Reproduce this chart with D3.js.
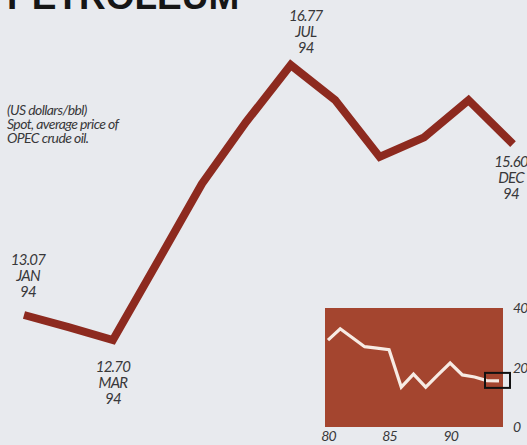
<!DOCTYPE html>
<html>
<head>
<meta charset="utf-8">
<script src="https://cdn.jsdelivr.net/npm/d3@7"></script>
<style>
  html, body { margin: 0; padding: 0; background: #e8eaee; }
  svg { display: block; }
  .lbl { font-family: Lato, "Open Sans", sans-serif; font-style: italic; fill: #38383a; }
</style>
</head>
<body>
<svg id="chart" width="527" height="445"></svg>
<script>
// Monthly spot price, OPEC crude, 1994 (US dollars/bbl)
const months = ["JAN","FEB","MAR","APR","MAY","JUN","JUL","AUG","SEP","OCT","NOV","DEC"];
const prices = [13.07, 12.89, 12.70, 13.85, 15.01, 15.93, 16.77, 16.25, 15.41, 15.70, 16.25, 15.60];

// Labelled months: index, text lines, offset of the first baseline from the point
const callouts = [
  { i: 0,  dx: 4,  dy: -50, lines: ["13.07", "JAN", "94"] },
  { i: 2,  dx: 0,  dy: 32,  lines: ["12.70", "MAR", "94"] },
  { i: 6,  dx: 15, dy: -44, lines: ["16.77", "JUL", "94"] },
  { i: 11, dx: -2, dy: 23,  lines: ["15.60", "DEC", "94"] }
];

// Annual averages for the inset, 1980-1994
const years = [1980,1981,1982,1983,1984,1985,1986,1987,1988,1989,1990,1991,1992,1993,1994];
const annual = [29.2, 33.0, 30.0, 27.0, 26.5, 26.0, 13.4, 17.8, 13.4, 17.5, 21.5, 17.5, 16.8, 15.6, 15.5];
const insetYTicks = [0, 20, 40];
const insetXTicks = [1980, 1985, 1990];

const svg = d3.select("#chart");

// Multi-line label as one text element with stacked tspans
function stacked(g, lines, xPos, yPos, lead, anchor) {
  const t = g.append("text")
    .attr("class", "lbl")
    .attr("text-anchor", anchor)
    .attr("x", xPos)
    .attr("y", yPos);
  t.selectAll("tspan").data(lines).join("tspan")
    .attr("x", xPos)
    .attr("dy", (d, k) => k === 0 ? 0 : lead)
    .text(d => d);
  return t;
}

// Title
svg.append("text")
  .attr("x", 7).attr("y", 9)
  .attr("font-family", "'Liberation Sans', Arial, sans-serif")
  .attr("font-weight", "bold")
  .attr("font-size", 37)
  .attr("fill", "#161616")
  .text("PETROLEUM");

// Description
const note = ["(US dollars/bbl)", "Spot, average price of", "OPEC crude oil."];
stacked(svg, note, 7, 115, 14, "start")
  .attr("font-size", 14)
  .attr("letter-spacing", -0.6);

// Main line scales
const x = d3.scalePoint().domain(months).range([24, 513]);
const y = d3.scaleLinear().domain([12.70, 16.77]).range([340, 65]);

const line = d3.line()
  .x((d, k) => x(months[k]))
  .y(d => y(d));

svg.append("path")
  .datum(prices)
  .attr("d", line)
  .attr("fill", "none")
  .attr("stroke", "#8d2a1f")
  .attr("stroke-width", 8)
  .attr("stroke-linejoin", "miter")
  .attr("stroke-linecap", "butt");

// Value callouts
callouts.forEach(c => {
  stacked(svg, c.lines, x(months[c.i]) + c.dx, y(prices[c.i]) + c.dy, 16, "middle")
    .attr("font-size", 15)
    .attr("letter-spacing", -0.8);
});

// Inset: annual averages
const inset = { left: 325, right: 503, top: 308, bottom: 427 };
const ix = d3.scaleLinear().domain([1980, 1994]).range([328, 499]);
const iy = d3.scaleLinear().domain([0, 40]).range([inset.bottom, inset.top]);

svg.append("rect")
  .attr("x", inset.left).attr("y", inset.top)
  .attr("width", inset.right - inset.left)
  .attr("height", inset.bottom - inset.top)
  .attr("fill", "#a4452f");

svg.append("path")
  .datum(annual)
  .attr("d", d3.line().x((d, k) => ix(years[k])).y(d => iy(d)))
  .attr("fill", "none")
  .attr("stroke", "#f7ebe4")
  .attr("stroke-width", 3.2)
  .attr("stroke-linejoin", "miter");

// Box marking 1994 on the inset
svg.append("rect")
  .attr("x", ix(1994) - 14).attr("y", iy(annual[14]) - 8)
  .attr("width", 25).attr("height", 15)
  .attr("fill", "none")
  .attr("stroke", "#111")
  .attr("stroke-width", 2);

// Inset axes
const yAxis = svg.append("g")
  .attr("transform", `translate(${inset.right + 10},0)`)
  .call(d3.axisRight(iy).tickValues(insetYTicks).tickSize(0).tickPadding(0));
yAxis.select(".domain").remove();
yAxis.selectAll("text")
  .attr("class", "lbl")
  .attr("font-size", 14)
  .attr("letter-spacing", -0.9)
  .attr("dy", "0.35em");

const xAxis = svg.append("g")
  .attr("transform", `translate(0,${inset.bottom})`)
  .call(d3.axisBottom(ix).tickValues(insetXTicks).tickSize(0).tickPadding(4)
    .tickFormat(d => String(d).slice(2)));
xAxis.select(".domain").remove();
xAxis.selectAll("text")
  .attr("class", "lbl")
  .attr("font-size", 14)
  .attr("letter-spacing", -0.9);
</script>
</body>
</html>
